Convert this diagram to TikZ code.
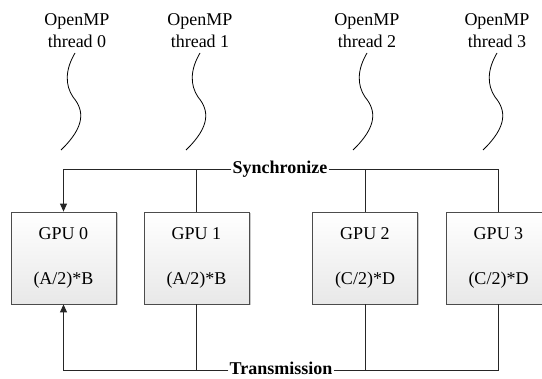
\documentclass[tikz,border=0pt]{standalone}
\usepackage{fontspec}
\setmainfont{Liberation Serif}
\usetikzlibrary{arrows.meta,calc,shadows}
\tikzset{
  gpubox/.style={draw=black!70, line width=0.8pt, top color=white, bottom color=black!9,
    minimum width=105pt, minimum height=92pt, inner sep=0pt, align=center,
    font=\fontsize{18}{22}\selectfont,
    drop shadow={shadow xshift=1.5pt, shadow yshift=-1.5pt, fill=black!35, opacity=0.6}},
  threadlbl/.style={align=center, inner sep=0pt, font=\fontsize{18}{22}\selectfont},
  buslbl/.style={inner sep=1pt, font=\bfseries\fontsize{18}{22}\selectfont},
  wire/.style={draw=black!85, line width=0.9pt},
  tip/.style={-{Triangle[length=8pt,width=7pt]}},
  wave/.style={draw=black, line width=0.8pt}
}
% wavy thread line hanging below a label, #2 = x of its top end
\newcommand{\threadwave}[2]{%
  \coordinate (#1a) at (#2,53);
  \coordinate (#1m) at ($(#2,97)+(-2,0)$);
  \coordinate (#1b) at ($(#2,150)+(-14,0)$);
  \draw[wave] (#1a) .. controls ($(#2,70)+(-10,0)$) and ($(#2,85)+(-10,0)$) .. (#1m)
    .. controls ($(#2,110)+(9,0)$) and ($(#2,126)+(11,0)$) .. (#1b);
}
\begin{document}
\begin{tikzpicture}[x=1pt,y=-1pt]
\useasboundingbox (0,0) rectangle (542,379);

% thread labels
\node[threadlbl] (t0) at (77,31) {OpenMP\\thread 0};
\node[threadlbl] (t1) at (200,31) {OpenMP\\thread 1};
\node[threadlbl] (t2) at (367,31) {OpenMP\\thread 2};
\node[threadlbl] (t3) at (497,31) {OpenMP\\thread 3};

% thread waves
\threadwave{w0}{75}
\threadwave{w1}{200}
\threadwave{w2}{367}
\threadwave{w3}{497}

% GPUs
\node[gpubox] (g0) at (63.5,258) {GPU 0\\[23pt](A/2)*B};
\node[gpubox] (g1) at (196.5,258) {GPU 1\\[23pt](A/2)*B};
\node[gpubox] (g2) at (365,258) {GPU 2\\[23pt](C/2)*D};
\node[gpubox] (g3) at (498.5,258) {GPU 3\\[23pt](C/2)*D};

% bus labels
\node[buslbl] (sync) at (280,169) {Synchronize};
\node[buslbl, anchor=base] (trans) at (281,375) {Transmission};
\coordinate (tl) at ([yshift=-1.5pt]trans.west);
\coordinate (tr) at ([yshift=-1.5pt]trans.east);

% synchronize bus
\draw[wire, tip] (sync.west) -| (g0.north);
\draw[wire] (sync.east) -| (g3.north);
\draw[wire] (g1.north) -- (g1.north |- sync.west);
\draw[wire] (g2.north) -- (g2.north |- sync.east);

% transmission bus
\draw[wire, tip] (tl) -| (g0.south);
\draw[wire] (tr) -| (g3.south);
\draw[wire] (g1.south) -- (g1.south |- tl);
\draw[wire] (g2.south) -- (g2.south |- tr);
\end{tikzpicture}
\end{document}
